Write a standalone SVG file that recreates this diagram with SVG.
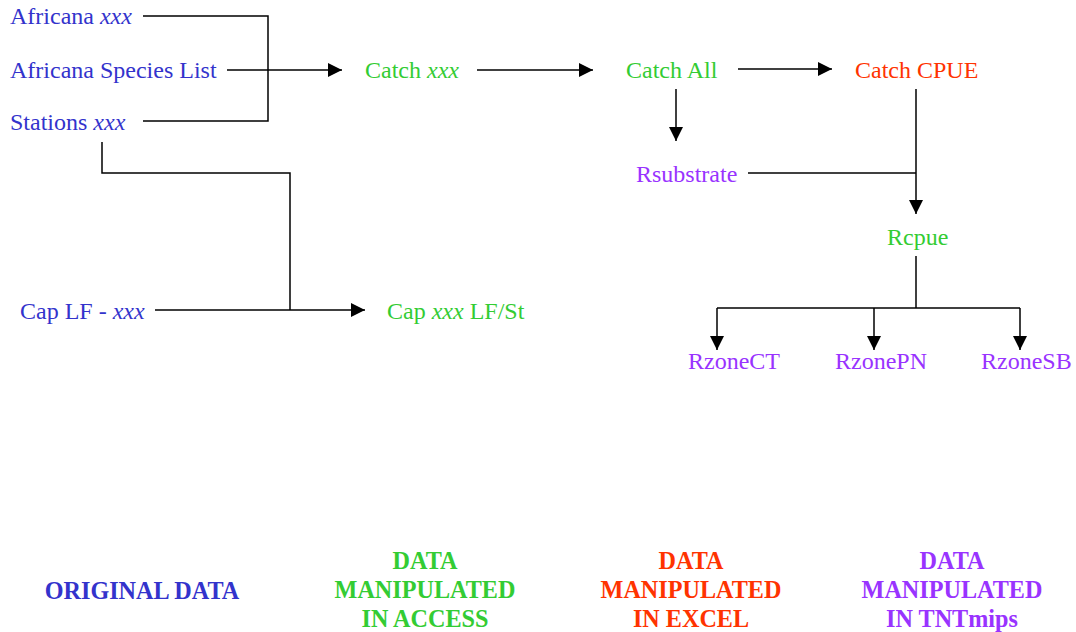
<svg xmlns="http://www.w3.org/2000/svg" width="1076" height="632" viewBox="0 0 1076 632">
<style>
text{font-family:"Liberation Serif","Times New Roman",serif;font-size:24px}
.b{fill:#3333CC}.g{fill:#33CC33}.r{fill:#FF3300}.p{fill:#9933FF}
.h{font-weight:bold;font-size:26px;text-anchor:middle}
.c{fill:none;stroke:#000;stroke-width:1.5}
</style>
<defs>
<marker id="ah" viewBox="0 0 14 14" refX="14" refY="7" markerWidth="14" markerHeight="14" markerUnits="userSpaceOnUse" orient="auto"><path d="M0,0L14,7L0,14z" fill="#000"/></marker>
</defs>
<rect width="1076" height="632" fill="#fff"/>
<g id="connectors">
<path class="c" d="M143,16H268V121H143"/>
<path class="c" d="M227,70H342" marker-end="url(#ah)"/>
<path class="c" d="M477,70H593" marker-end="url(#ah)"/>
<path class="c" d="M738,69H832" marker-end="url(#ah)"/>
<path class="c" d="M676,89V141" marker-end="url(#ah)"/>
<path class="c" d="M916,89V214" marker-end="url(#ah)"/>
<path class="c" d="M748,173H916"/>
<path class="c" d="M916,256V308"/>
<path class="c" d="M717,308H1020"/>
<path class="c" d="M717,308V350" marker-end="url(#ah)"/>
<path class="c" d="M874,308V350" marker-end="url(#ah)"/>
<path class="c" d="M1020,308V350" marker-end="url(#ah)"/>
<path class="c" d="M102,142V173H290V310"/>
<path class="c" d="M155,310H365" marker-end="url(#ah)"/>
</g>
<g id="africana-xxx"><text class="b" x="10" y="24">Africana <tspan font-style="italic">xxx</tspan></text></g>
<g id="africana-species"><text class="b" x="10" y="78">Africana Species List</text></g>
<g id="stations"><text class="b" x="10" y="130">Stations <tspan font-style="italic">xxx</tspan></text></g>
<g id="cap-lf"><text class="b" x="20" y="319">Cap LF - <tspan font-style="italic">xxx</tspan></text></g>
<g id="catch-xxx"><text class="g" x="365" y="78">Catch <tspan font-style="italic">xxx</tspan></text></g>
<g id="catch-all"><text class="g" x="626" y="78">Catch All</text></g>
<g id="catch-cpue"><text class="r" x="855" y="78">Catch CPUE</text></g>
<g id="rsubstrate"><text class="p" x="636" y="182">Rsubstrate</text></g>
<g id="rcpue"><text class="g" x="887" y="245">Rcpue</text></g>
<g id="cap-xxx-lfst"><text class="g" x="387" y="319">Cap <tspan font-style="italic">xxx</tspan> LF/St</text></g>
<g id="rzonect"><text class="p" x="688" y="369">RzoneCT</text></g>
<g id="rzonepn"><text class="p" x="835" y="369">RzonePN</text></g>
<g id="rzonesb"><text class="p" x="981" y="369">RzoneSB</text></g>
<g id="legend-original" transform="translate(142,0) scale(0.93,1)"><text class="h b" x="0" y="599">ORIGINAL DATA</text></g>
<g id="legend-access" transform="translate(425,0) scale(0.93,1)"><text class="h g" x="0" y="569">DATA</text><text class="h g" x="0" y="598">MANIPULATED</text><text class="h g" x="0" y="627">IN ACCESS</text></g>
<g id="legend-excel" transform="translate(691,0) scale(0.93,1)"><text class="h r" x="0" y="569">DATA</text><text class="h r" x="0" y="598">MANIPULATED</text><text class="h r" x="0" y="627">IN EXCEL</text></g>
<g id="legend-tntmips" transform="translate(952,0) scale(0.93,1)"><text class="h p" x="0" y="569">DATA</text><text class="h p" x="0" y="598">MANIPULATED</text><text class="h p" x="0" y="627">IN TNTmips</text></g>
</svg>
